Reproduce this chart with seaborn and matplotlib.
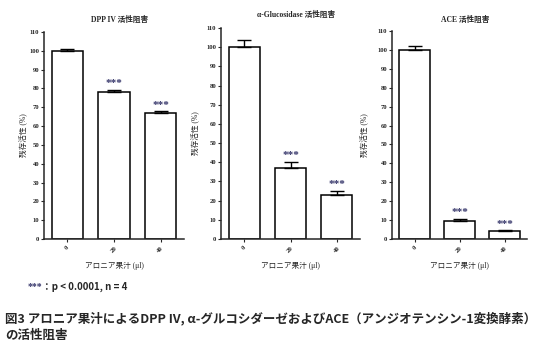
import numpy as np
import pandas as pd
import matplotlib.pyplot as plt
import seaborn as sns

# data
doses = ['0', '20', '40']
titles = ['DPP IV 活性阻害', 'α-Glucosidase 活性阻害', 'ACE 活性阻害']
dpp_vals = [100, 78, 67]
dpp_err = [1.0, 1.0, 0.8]
glu_vals = [100, 37, 23]
glu_err = [3.5, 3.0, 2.0]
ace_vals = [100, 9.5, 4]
ace_err = [2.0, 1.0, 0.5]
stars = ['', '***', '***']

sns.set_theme(style="ticks")
plt.rcParams['font.family'] = ['Liberation Serif', 'Noto Sans CJK JP', 'DejaVu Sans']

fig = plt.figure(figsize=(5.39, 3.53), dpi=100)
W, H = 539, 353

# axes boxes in pixels: left, right, top(y=110), bottom(y=0)
boxes = [(44, 184, 32, 239), (221, 360, 28, 239), (392, 527, 31, 239)]
title_y = [20, 15, 20]
ylab_pad = [1, 4, 6]
panels = [(dpp_vals, dpp_err), (glu_vals, glu_err), (ace_vals, ace_err)]
star_col = '#35356a'

for i, ((vals, errs), (l, r, t, b)) in enumerate(zip(panels, boxes)):
    ax = fig.add_axes([l / W, 1 - b / H, (r - l) / W, (b - t) / H])
    df = pd.DataFrame({'dose': doses, 'val': vals})
    sns.barplot(data=df, x='dose', y='val', ax=ax, color='white',
                edgecolor='black', linewidth=1.1, width=0.67, errorbar=None)
    for p in ax.patches:
        p.set_facecolor('white')
    xs = np.arange(len(doses))
    ax.errorbar(xs, vals, yerr=[np.zeros(len(vals)), errs], fmt='none',
                ecolor='black', elinewidth=1.0, capsize=5, capthick=1.0)
    for x, v, e, s in zip(xs, vals, errs, stars):
        if s:
            ax.text(x, v + e + 1.0, s, ha='center', va='bottom', fontsize=8,
                    color=star_col, fontweight='bold')
    ax.set_xlim(-0.5, 2.5)
    ax.set_ylim(0, 110)
    ax.set_yticks(np.arange(0, 111, 10))
    ax.tick_params(axis='y', labelsize=4.8, length=2.5, width=0.8, pad=1)
    ax.tick_params(axis='x', labelsize=4.8, length=2.5, width=0.8, pad=2,
                   labelrotation=45)
    for lab in ax.get_yticklabels() + ax.get_xticklabels():
        lab.set_fontweight('bold')
    ax.set_xlabel('アロニア果汁 (μl)', fontsize=5.5, labelpad=6)
    ax.set_ylabel('残存活性 (%)', fontsize=5.5, labelpad=ylab_pad[i])
    for sp in ['left', 'bottom']:
        ax.spines[sp].set_linewidth(1.1)
    sns.despine(ax=ax)
    fig.text((l + r) / 2 / W + 0.01, 1 - title_y[i] / H, titles[i], ha='center',
             va='center', fontsize=5.5, fontweight='bold')

fig.text(28 / W, 1 - 287 / H, '***', color=star_col, fontsize=7,
         fontweight='bold', va='center', ha='left')
fig.text(42 / W, 1 - 287 / H, '：p < 0.0001, n = 4', fontsize=7,
         fontweight='bold', va='center', ha='left',
         family=['Noto Sans CJK JP', 'DejaVu Sans'])
fig.text(5 / W, 1 - 318 / H,
         '図3 アロニア果汁によるDPP IV, α-グルコシダーゼおよびACE（アンジオテンシン-1変換酵素）',
         fontsize=9, fontweight='bold', va='center', ha='left',
         family=['Noto Sans CJK JP', 'DejaVu Sans'])
fig.text(5 / W, 1 - 335 / H, 'の活性阻害', fontsize=9, fontweight='bold',
         va='center', ha='left', family=['Noto Sans CJK JP', 'DejaVu Sans'])

fig.savefig('out.png', dpi=100)
